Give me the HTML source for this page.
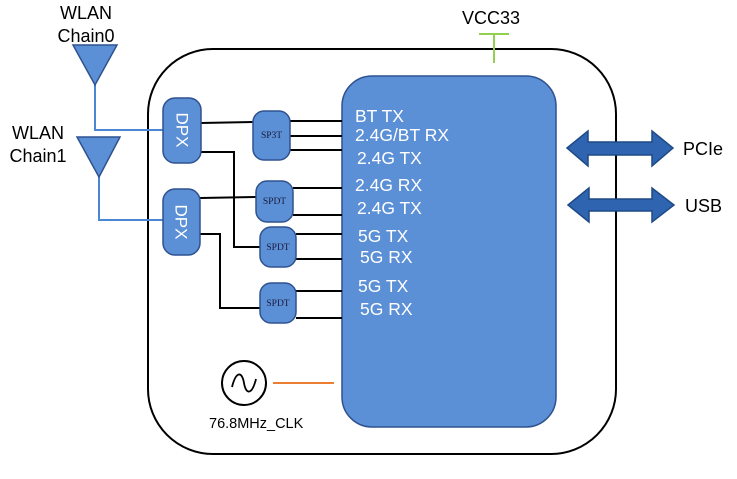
<!DOCTYPE html>
<html><head><meta charset="utf-8"><style>
html,body{margin:0;padding:0;background:#fff;}
svg{display:block;font-family:"Liberation Sans",sans-serif;}
</style></head><body>
<svg width="737" height="479" viewBox="0 0 737 479" xmlns="http://www.w3.org/2000/svg">
<rect x="148" y="49" width="468" height="405" rx="65" ry="65" fill="#fff" stroke="#000" stroke-width="2"/>
<rect x="342" y="76" width="214" height="351" rx="30" ry="30" fill="#5b8fd6" stroke="#2f528f" stroke-width="1.5"/>
<text x="491" y="24" font-size="18" text-anchor="middle" fill="#000">VCC33</text>
<line x1="479" y1="34" x2="509" y2="34" stroke="#92d050" stroke-width="2"/>
<line x1="494" y1="34" x2="494" y2="63" stroke="#92d050" stroke-width="2"/>
<text x="86" y="19" font-size="18" text-anchor="middle">WLAN</text>
<text x="86" y="42" font-size="18" text-anchor="middle">Chain0</text>
<text x="38" y="139" font-size="18" text-anchor="middle">WLAN</text>
<text x="38" y="162" font-size="18" text-anchor="middle">Chain1</text>
<polyline points="95,85 95,130 163,130" fill="none" stroke="#4a86d4" stroke-width="2"/>
<polyline points="99,177 99,220 163,220" fill="none" stroke="#4a86d4" stroke-width="2"/>
<polygon points="73,45 117,45 95,85" fill="#5b8fd6" stroke="#2f528f" stroke-width="1.5"/>
<polygon points="77,137 120,137 99,177" fill="#5b8fd6" stroke="#2f528f" stroke-width="1.5"/>
<g fill="none" stroke="#000" stroke-width="2">
<line x1="201" y1="123" x2="253" y2="122"/>
<polyline points="201,152 234,152 234,247 260,247"/>
<line x1="200" y1="198" x2="256" y2="197"/>
<polyline points="200,234 220,234 220,308 260,308"/>
<line x1="290" y1="121" x2="342" y2="121"/>
<line x1="290" y1="136" x2="342" y2="136"/>
<line x1="290" y1="150" x2="342" y2="150"/>
<line x1="293" y1="188" x2="342" y2="188"/>
<line x1="293" y1="215" x2="342" y2="215"/>
<line x1="296" y1="234" x2="342" y2="234"/>
<line x1="296" y1="259" x2="342" y2="259"/>
<line x1="296" y1="291" x2="342" y2="291"/>
<line x1="296" y1="318" x2="342" y2="318"/>
</g>
<rect x="163" y="98" width="38" height="65" rx="12" fill="#5b8fd6" stroke="#2f528f" stroke-width="1.5"/>
<rect x="163" y="189" width="37" height="66" rx="12" fill="#5b8fd6" stroke="#2f528f" stroke-width="1.5"/>
<text transform="translate(182,130) rotate(90)" font-size="17" fill="#fff" text-anchor="middle" dominant-baseline="central">DPX</text>
<text transform="translate(181,222) rotate(90)" font-size="17" fill="#fff" text-anchor="middle" dominant-baseline="central">DPX</text>
<g fill="#5b8fd6" stroke="#2f528f" stroke-width="1.5">
<rect x="253" y="111" width="37" height="49" rx="11"/>
<rect x="256" y="181" width="37" height="41" rx="11"/>
<rect x="260" y="227" width="36" height="40" rx="11"/>
<rect x="260" y="283" width="36" height="40" rx="11"/>
</g>
<g font-family="Liberation Serif,serif" font-size="9.5" fill="#1a1a3a" text-anchor="middle">
<text x="271.5" y="138">SP3T</text>
<text x="274.5" y="204">SPDT</text>
<text x="278" y="250">SPDT</text>
<text x="278" y="306">SPDT</text>
</g>
<g font-size="17.5" fill="#fff">
<text x="355" y="122">BT TX</text>
<text x="355" y="141">2.4G/BT RX</text>
<text x="357" y="164">2.4G TX</text>
<text x="355" y="191">2.4G RX</text>
<text x="357" y="214">2.4G TX</text>
<text x="358" y="242">5G TX</text>
<text x="360" y="263">5G RX</text>
<text x="358" y="292">5G TX</text>
<text x="360" y="315">5G RX</text>
</g>
<g fill="#2e64b0" stroke="#1f4a85" stroke-width="1.5">
<polygon points="567,148 588,131 588,142 652,142 652,131 673,148 652,166 652,155 588,155 588,166"/>
<polygon points="568,205 589,188 589,199 652,199 652,188 674,205 652,222 652,211 589,211 589,222"/>
</g>
<text x="683" y="155" font-size="18">PCIe</text>
<text x="685" y="212" font-size="18">USB</text>
<circle cx="244" cy="383" r="22" fill="#fff" stroke="#000" stroke-width="2"/>
<path d="M232,387 C236,371 242,371 244,383 C246,395 252,395 256,379" fill="none" stroke="#000" stroke-width="1.8"/>
<line x1="273" y1="383" x2="334" y2="383" stroke="#ed7d31" stroke-width="2"/>
<text x="209" y="428" font-size="14.5">76.8MHz_CLK</text>
</svg>
</body></html>
